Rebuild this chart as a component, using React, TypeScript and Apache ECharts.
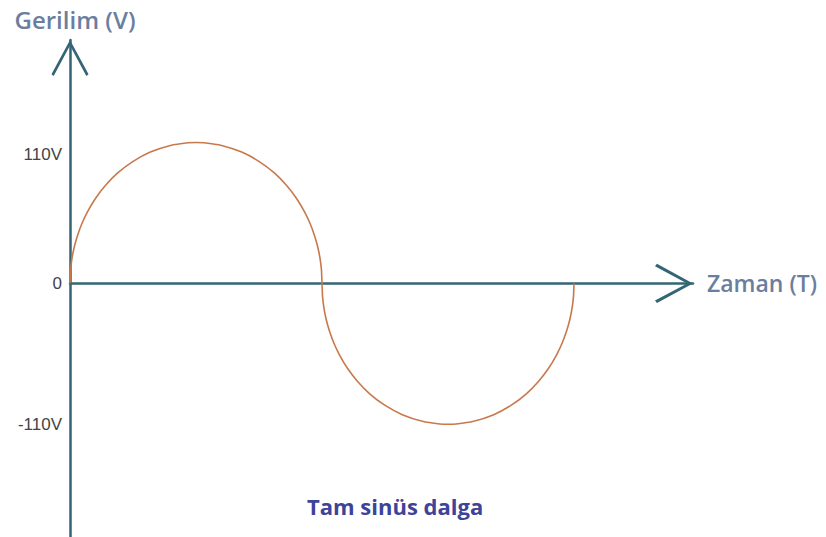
import React, { useEffect, useRef } from "react";
import * as echarts from "echarts";

// Time as a fraction of one period (T), voltage in volts
const timeT: number[] = [
  0, 0.001, 0.003, 0.006, 0.01, 0.016, 0.024, 0.035, 0.05, 0.07, 0.095, 0.125, 0.16, 0.2, 0.235, 0.251,
  0.267, 0.302, 0.342, 0.377, 0.407, 0.432, 0.452, 0.467, 0.478, 0.486, 0.492, 0.496, 0.499, 0.501, 0.502,
  0.503, 0.505, 0.508, 0.512, 0.518, 0.526, 0.537, 0.552, 0.572, 0.597, 0.627, 0.662, 0.702, 0.737, 0.753,
  0.769, 0.804, 0.844, 0.879, 0.909, 0.934, 0.954, 0.969, 0.98, 0.988, 0.994, 0.998, 1.001, 1.003, 1.004,
];
const voltage: number[] = [
  0, 9.8, 17.0, 23.9, 30.7, 38.6, 46.9, 56.0, 65.9, 76.2, 86.2, 95.1, 102.5, 107.7, 109.8, 110,
  109.8, 107.7, 102.5, 95.1, 86.2, 76.2, 65.9, 56.0, 46.9, 38.6, 30.7, 23.9, 17.0, 9.8, 0,
  -9.8, -17.0, -23.9, -30.7, -38.6, -46.9, -56.0, -65.9, -76.2, -86.2, -95.1, -102.5, -107.7, -109.8, -110,
  -109.8, -107.7, -102.5, -95.1, -86.2, -76.2, -65.9, -56.0, -46.9, -38.6, -30.7, -23.9, -17.0, -9.8, 0,
];
const yTicks: number[] = [-110, 0, 110];
const yAxisName = "Gerilim (V)";
const xAxisName = "Zaman (T)";
const chartTitle = "Tam sinüs dalga";

const AXIS_COLOR = "#336575";
const CHEVRON = "path://M50,0 L100,92 L94,97 L50,15 L6,97 L0,92 Z";

export default function App() {
  const ref = useRef<HTMLDivElement>(null);
  useEffect(() => {
    if (!ref.current) return;
    const chart = echarts.init(ref.current, null, { renderer: "svg" });
    const data = timeT.map((t, i) => [t, voltage[i]]);
    chart.setOption({
      animation: false,
      backgroundColor: "#ffffff",
      title: {
        text: chartTitle,
        left: 302,
        top: 490,
        textStyle: {
          fontFamily: "Open Sans",
          fontWeight: 700,
          fontSize: 22,
          color: "#3d4399",
        },
      },
      grid: { left: 70, right: 133, top: 40, bottom: 0, containLabel: false },
      xAxis: {
        type: "value",
        min: 0,
        max: 1.241,
        name: xAxisName,
        nameLocation: "end",
        nameGap: 14,
        nameTextStyle: {
          fontFamily: "Open Sans",
          fontWeight: 600,
          fontSize: 23,
          color: "#6a7ea0",
          verticalAlign: "middle",
        },
        axisLine: {
          show: true,
          onZero: true,
          lineStyle: { color: AXIS_COLOR, width: 2.5 },
          symbol: ["none", CHEVRON],
          symbolSize: [46, 38],
          symbolOffset: [0, -19],
        },
        axisTick: { show: false },
        axisLabel: { show: false },
        splitLine: { show: false },
      },
      yAxis: {
        type: "value",
        min: -198,
        max: 190,
        name: yAxisName,
        nameLocation: "end",
        nameGap: 9,
        nameTextStyle: {
          fontFamily: "Open Sans",
          fontWeight: 600,
          fontSize: 24,
          color: "#6a7ea0",
          align: "center",
          padding: [0, 0, 0, 10],
        },
        axisLine: {
          show: true,
          onZero: false,
          lineStyle: { color: AXIS_COLOR, width: 2.5 },
          symbol: ["none", CHEVRON],
          symbolSize: [38, 36],
          symbolOffset: [0, -18],
        },
        axisTick: { show: false },
        splitLine: { show: false },
        axisLabel: {
          show: true,
          customValues: yTicks,
          margin: 8,
          fontFamily: "Liberation Sans",
          fontSize: 17,
          color: "#444444",
          formatter: (v: number) => (v > 0 ? `{low|${v}V}` : v === 0 ? "0" : `${v}V`),
          rich: {
            low: {
              fontFamily: "Liberation Sans",
              fontSize: 17,
              color: "#444444",
              padding: [25, 0, 0, 0],
            },
          },
        },
      },
      series: [
        {
          type: "line",
          data,
          smooth: 0.15,
          showSymbol: false,
          symbol: "none",
          lineStyle: { color: "#c7794c", width: 1.6 },
          z: 3,
        },
      ],
    });
    return () => chart.dispose();
  }, []);
  return (
    <div
      ref={ref}
      style={{ position: "fixed", left: 0, top: 0, width: 826, height: 537, background: "#fff" }}
    />
  );
}
